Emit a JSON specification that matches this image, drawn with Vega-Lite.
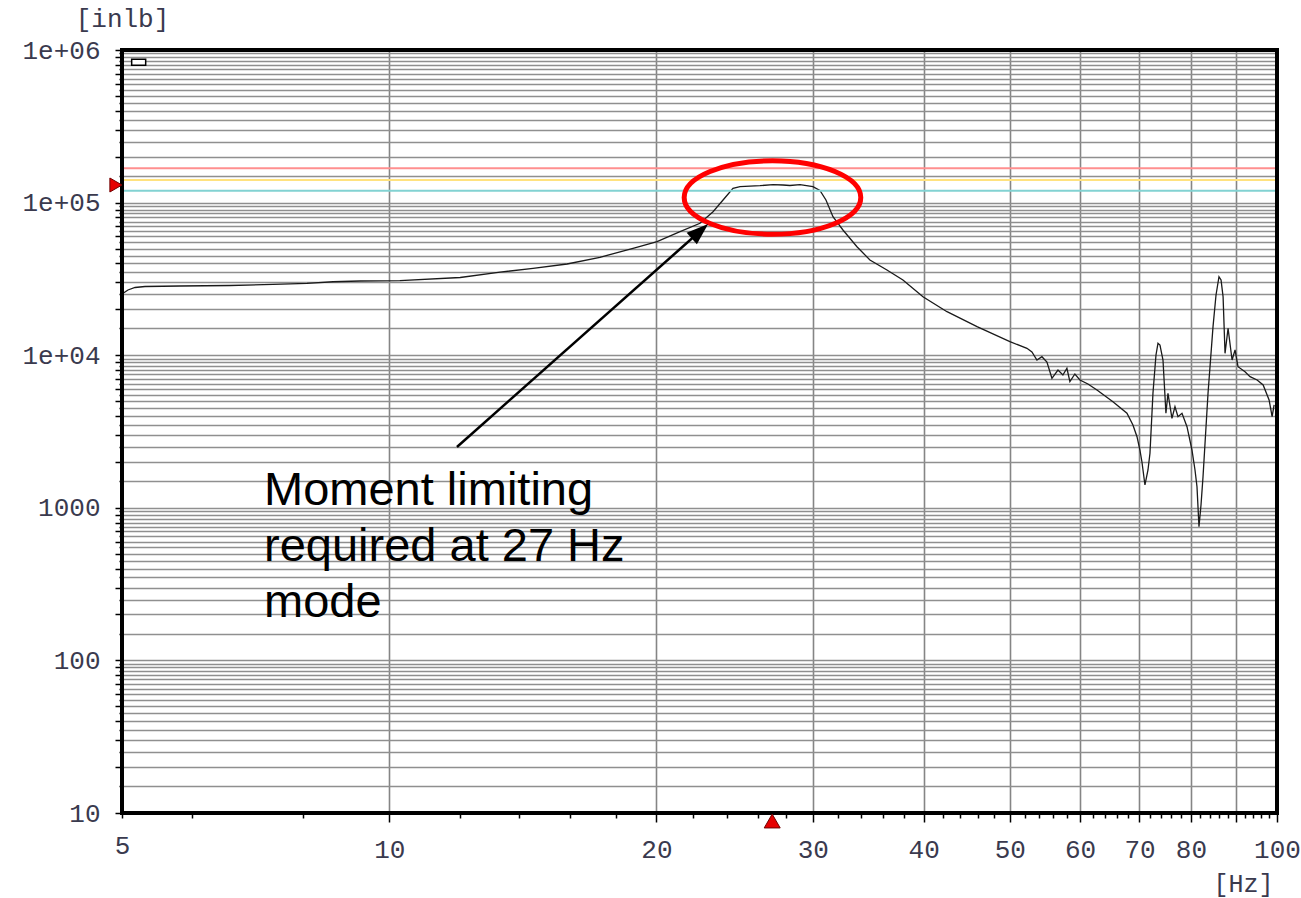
{
  "$schema": "https://vega.github.io/schema/vega-lite/v6.json",
  "width": 1155,
  "height": 763,
  "autosize": {"type": "none"},
  "padding": {"left": 122, "top": 50, "right": 24, "bottom": 85},
  "background": "white",
  "config": {"view": {"stroke": null}},
  "layer": [
    {
      "data": {"values": [
        {"f": 5.0, "v": 25180}, {"f": 5.078, "v": 26750}, {"f": 5.172, "v": 27770}, {"f": 5.307, "v": 28190},
        {"f": 5.811, "v": 28410}, {"f": 6.616, "v": 28620}, {"f": 7.397, "v": 29140}, {"f": 8.08, "v": 29590},
        {"f": 8.643, "v": 30300}, {"f": 9.27, "v": 30630}, {"f": 10.28, "v": 30800}, {"f": 12.02, "v": 32300},
        {"f": 13.33, "v": 35000}, {"f": 14.52, "v": 37110}, {"f": 15.86, "v": 39600}, {"f": 17.27, "v": 43800},
        {"f": 18.82, "v": 50180}, {"f": 20.03, "v": 55440}, {"f": 21.26, "v": 64470}, {"f": 22.39, "v": 73170},
        {"f": 23.16, "v": 87180}, {"f": 23.77, "v": 103990}, {"f": 24.39, "v": 124100}, {"f": 24.84, "v": 127100},
        {"f": 26.16, "v": 129100}, {"f": 27.06, "v": 131000}, {"f": 27.76, "v": 130400}, {"f": 28.27, "v": 129400},
        {"f": 29.02, "v": 131000}, {"f": 30.01, "v": 127100}, {"f": 30.56, "v": 120000}, {"f": 31.04, "v": 104000},
        {"f": 31.61, "v": 80830}, {"f": 32.44, "v": 66140}, {"f": 33.64, "v": 51400}, {"f": 34.79, "v": 42060},
        {"f": 36.36, "v": 36170}, {"f": 37.9, "v": 31100}, {"f": 39.92, "v": 24170}, {"f": 42.49, "v": 19280},
        {"f": 45.93, "v": 15380}, {"f": 50.02, "v": 12260}, {"f": 52.28, "v": 11100}, {"f": 52.96, "v": 10500},
        {"f": 53.65, "v": 9300}, {"f": 54.35, "v": 9775}, {"f": 55.06, "v": 9025}, {"f": 55.78, "v": 7058},
        {"f": 56.66, "v": 7998}, {"f": 57.39, "v": 7418}, {"f": 57.99, "v": 8208}, {"f": 58.44, "v": 6704},
        {"f": 59.2, "v": 7532}, {"f": 59.98, "v": 6880}, {"f": 61.24, "v": 6477}, {"f": 62.69, "v": 5916},
        {"f": 65.34, "v": 4958}, {"f": 67.76, "v": 4163}, {"f": 68.82, "v": 3487}, {"f": 69.55, "v": 2924},
        {"f": 70.08, "v": 2392}, {"f": 70.45, "v": 1996}, {"f": 71.0, "v": 1411}, {"f": 71.56, "v": 1769},
        {"f": 71.93, "v": 2276}, {"f": 72.49, "v": 5628}, {"f": 73.06, "v": 10030}, {"f": 73.44, "v": 11970},
        {"f": 73.82, "v": 11660}, {"f": 74.4, "v": 9300}, {"f": 74.97, "v": 4163}, {"f": 75.37, "v": 5628},
        {"f": 76.15, "v": 3860}, {"f": 76.75, "v": 4597}, {"f": 77.35, "v": 3954}, {"f": 78.16, "v": 4163},
        {"f": 79.18, "v": 3400}, {"f": 80.21, "v": 2392}, {"f": 80.84, "v": 1769}, {"f": 81.26, "v": 1375},
        {"f": 81.68, "v": 752}, {"f": 82.11, "v": 1043}, {"f": 82.54, "v": 1599}, {"f": 83.62, "v": 5628},
        {"f": 84.71, "v": 15380}, {"f": 85.37, "v": 24800}, {"f": 86.03, "v": 32690}, {"f": 86.49, "v": 31100},
        {"f": 86.95, "v": 24170}, {"f": 87.39, "v": 10290}, {"f": 88.08, "v": 15010}, {"f": 89.0, "v": 9300},
        {"f": 89.69, "v": 10820}, {"f": 90.38, "v": 8408}, {"f": 92.04, "v": 7797}, {"f": 93.25, "v": 7228},
        {"f": 94.97, "v": 6880}, {"f": 96.47, "v": 6380}, {"f": 97.97, "v": 5087}, {"f": 98.74, "v": 3954},
        {"f": 99.26, "v": 4718}
      ]},
      "mark": {"type": "line", "color": "#1a1a1a", "strokeWidth": 1.3},
      "encoding": {
        "x": {
          "field": "f", "type": "quantitative",
          "scale": {"type": "log", "domain": [5, 100], "nice": false, "zero": false},
          "axis": {
            "values": [5, 6, 8, 10, 12, 14, 16, 18, 20, 22, 24, 26, 28, 30, 32, 34, 36, 38, 40, 42, 44, 46, 48, 50, 52, 54, 56, 58, 60, 62, 64, 66, 68, 70, 72, 74, 76, 78, 80, 82, 84, 86, 88, 90, 92, 94, 96, 98, 100],
            "labelExpr": "indexof([5, 10, 20, 30, 40, 50, 60, 70, 80, 100], datum.value) >= 0 ? '' + datum.value : ''",
            "labelFont": "Liberation Mono", "labelFontSize": 26, "labelColor": "#3a3a4e",
            "labelFlush": false, "labelOverlap": false, "labelBound": false,
            "labelPadding": 14,
            "tickColor": "black", "tickWidth": 1.5,
            "tickSize": {"condition": {"test": "datum.value % 10 == 0", "value": 9}, "value": 5},
            "domain": false,
            "grid": true, "gridColor": "#858585", "gridWidth": 1.6,
            "gridOpacity": {"condition": {"test": "datum.value % 10 == 0 && datum.value < 100", "value": 1}, "value": 0},
            "title": "[Hz]", "titleFont": "Liberation Mono", "titleFontSize": 25, "titleFontWeight": "normal",
            "titleColor": "#3a3a4e", "titleX": 1121, "titleY": 70, "titleAlign": "center", "titleBaseline": "middle"
          }
        },
        "y": {
          "field": "v", "type": "quantitative",
          "scale": {"type": "log", "domain": [10, 1000000], "nice": false, "zero": false},
          "axis": {
            "values": [10, 15, 20, 25, 30, 35, 40, 45, 50, 55, 60, 65, 70, 75, 80, 85, 90, 95,
              100, 150, 200, 250, 300, 350, 400, 450, 500, 550, 600, 650, 700, 750, 800, 850, 900, 950,
              1000, 1500, 2000, 2500, 3000, 3500, 4000, 4500, 5000, 5500, 6000, 6500, 7000, 7500, 8000, 8500, 9000, 9500,
              10000, 15000, 20000, 25000, 30000, 35000, 40000, 45000, 50000, 55000, 60000, 65000, 70000, 75000, 80000, 85000, 90000, 95000,
              100000, 150000, 200000, 250000, 300000, 350000, 400000, 450000, 500000, 550000, 600000, 650000, 700000, 750000, 800000, 850000, 900000, 950000,
              1000000],
            "labelExpr": "datum.value == 1000000 ? '1e+06' : datum.value == 100000 ? '1e+05' : datum.value == 10000 ? '1e+04' : datum.value == 1000 ? '1000' : datum.value == 100 ? '100' : datum.value == 10 ? '10' : ''",
            "labelFont": "Liberation Mono", "labelFontSize": 26, "labelColor": "#3a3a4e",
            "labelFlush": false, "labelOverlap": false, "labelBound": false,
            "labelPadding": 15,
            "tickColor": "black", "tickWidth": 1.5,
            "tickSize": {"condition": {"test": "abs(datum.value / pow(10, floor(log(datum.value) / LN10 + 1e-9)) - round(datum.value / pow(10, floor(log(datum.value) / LN10 + 1e-9)))) < 0.01", "value": 7}, "value": 3},
            "domain": false,
            "grid": true, "gridColor": "#8f8f8f", "gridWidth": 1.4,
            "title": "[inlb]", "titleFont": "Liberation Mono", "titleFontSize": 26, "titleFontWeight": "normal",
            "titleColor": "#3a3a4e", "titleAngle": 0, "titleX": 0, "titleY": -32, "titleAlign": "center", "titleBaseline": "middle"
          }
        }
      }
    },
    {
      "data": {"values": [{}]},
      "mark": {"type": "rule", "color": "#ff8f8f", "strokeWidth": 2},
      "encoding": {"y": {"datum": 167800, "type": "quantitative"}}
    },
    {
      "data": {"values": [{}]},
      "mark": {"type": "rule", "color": "#ffe27f", "strokeWidth": 2},
      "encoding": {"y": {"datum": 140600, "type": "quantitative"}}
    },
    {
      "data": {"values": [{}]},
      "mark": {"type": "rule", "color": "#82d2d2", "strokeWidth": 2},
      "encoding": {"y": {"datum": 119700, "type": "quantitative"}}
    },
    {
      "data": {"values": [{}]},
      "mark": {"type": "point", "shape": "M 1 0 C 1 0.2298 0.5523 0.416 0 0.416 C -0.5523 0.416 -1 0.2298 -1 0 C -1 -0.2298 -0.5523 -0.416 0 -0.416 C 0.5523 -0.416 1 -0.2298 1 0 Z", "size": 31188, "filled": false, "color": "#ff0000", "strokeWidth": 5, "opacity": 1},
      "encoding": {
        "x": {"datum": 27.02, "type": "quantitative"},
        "y": {"datum": 108000, "type": "quantitative"}
      }
    },
    {
      "data": {"values": [{}]},
      "mark": {"type": "rule", "color": "black", "strokeWidth": 2.5},
      "encoding": {
        "x": {"datum": 11.92, "type": "quantitative"},
        "y": {"datum": 2503, "type": "quantitative"},
        "x2": {"datum": 22.39},
        "y2": {"datum": 64860}
      }
    },
    {
      "data": {"values": [{}]},
      "mark": {"type": "point", "shape": "M 0 0 L 0.35 1 L -0.35 1 Z", "size": 1936, "filled": true, "color": "black", "opacity": 1, "angle": 48.4},
      "encoding": {
        "x": {"datum": 22.87, "type": "quantitative"},
        "y": {"datum": 72410, "type": "quantitative"}
      }
    },
    {
      "data": {"values": [{}]},
      "mark": {"type": "text", "text": ["Moment limiting", "required at 27 Hz", "mode"], "align": "left", "baseline": "alphabetic", "font": "Liberation Sans", "fontSize": 47, "lineHeight": 56, "color": "black"},
      "encoding": {
        "x": {"datum": 7.227, "type": "quantitative"},
        "y": {"datum": 1043, "type": "quantitative"}
      }
    },
    {
      "data": {"values": [{}]},
      "mark": {"type": "rect", "filled": false, "color": "black", "strokeWidth": 4, "opacity": 1},
      "encoding": {
        "x": {"datum": 5, "type": "quantitative"},
        "x2": {"datum": 100},
        "y": {"datum": 10, "type": "quantitative"},
        "y2": {"datum": 1000000}
      }
    },
    {
      "data": {"values": [{}]},
      "mark": {"type": "point", "shape": "triangle-up", "size": 256, "filled": true, "fill": "#e60000", "stroke": "#700000", "strokeWidth": 1, "opacity": 1},
      "encoding": {
        "x": {"datum": 27.0, "type": "quantitative"},
        "y": {"datum": 8.86, "type": "quantitative"}
      }
    },
    {
      "data": {"values": [{}]},
      "mark": {"type": "point", "shape": "triangle-right", "size": 196, "filled": true, "fill": "#e60000", "stroke": "#700000", "strokeWidth": 1, "opacity": 1},
      "encoding": {
        "x": {"datum": 4.922, "type": "quantitative"},
        "y": {"datum": 130400, "type": "quantitative"}
      }
    },
    {
      "data": {"values": [{}]},
      "mark": {"type": "point", "shape": "M -1 -0.43 L 1 -0.43 L 1 0.43 L -1 0.43 Z", "size": 196, "filled": true, "fill": "white", "stroke": "black", "strokeWidth": 1.5, "opacity": 1},
      "encoding": {
        "x": {"datum": 5.221, "type": "quantitative"},
        "y": {"datum": 830800, "type": "quantitative"}
      }
    }
  ]
}
